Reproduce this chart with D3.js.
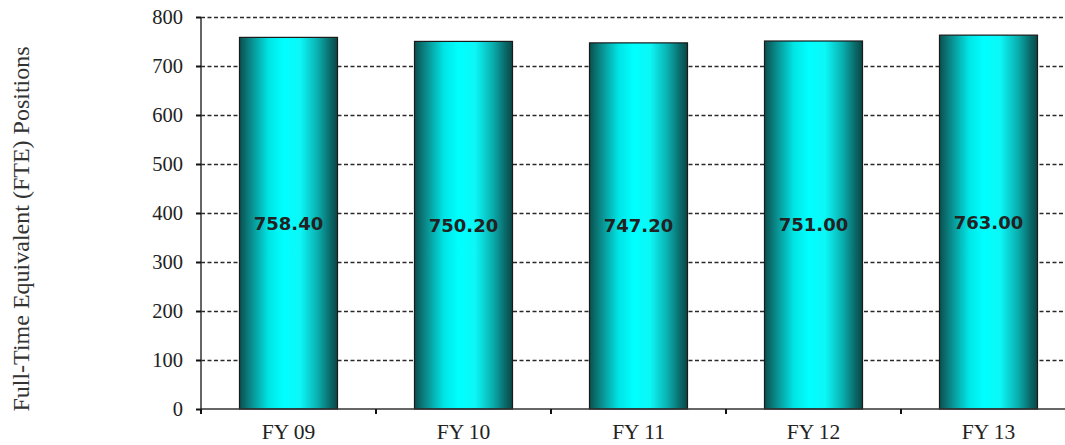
<!DOCTYPE html>
<html>
<head>
<meta charset="utf-8">
<script src="https://cdn.jsdelivr.net/npm/d3@7"></script>
<style>
  html, body { margin: 0; padding: 0; background: #fff; }
  svg { display: block; }
</style>
</head>
<body>
<svg id="chart" width="1065" height="445"></svg>
<script>
// Full-time equivalent positions by fiscal year
const categories = ["FY 09", "FY 10", "FY 11", "FY 12", "FY 13"];
const values = [758.40, 750.20, 747.20, 751.00, 763.00];
const yTicks = [0, 100, 200, 300, 400, 500, 600, 700, 800];
const yTitle = "Full-Time Equivalent (FTE) Positions";

const svg = d3.select("#chart");
const plotLeft = 201, plotTop = 17, plotBottom = 409, plotRight = 1076;
const serif = "Liberation Serif, Times New Roman, serif";

const x = d3.scaleBand().domain(categories).range([plotLeft, plotRight]).paddingInner(0.44).paddingOuter(0.22);
const y = d3.scaleLinear().domain([0, 800]).range([plotBottom, plotTop]);

// Horizontal cylinder-style shading for the bars
const defs = svg.append("defs");
const grad = defs.append("linearGradient").attr("id", "barShade")
  .attr("x1", "0%").attr("x2", "100%").attr("y1", "0%").attr("y2", "0%");
[
  [0, "#0a4f4f"], [0.12, "#0a8c8c"], [0.3, "#00e5e5"], [0.45, "#00ffff"],
  [0.62, "#0cf7f7"], [0.8, "#0aaeae"], [0.93, "#0a6767"], [1, "#0b4747"]
].forEach(([o, c]) => grad.append("stop").attr("offset", o).attr("stop-color", c));

// Dashed gridlines
svg.append("g").selectAll("line").data(yTicks.filter(d => d > 0)).join("line")
  .attr("x1", plotLeft).attr("x2", 1065)
  .attr("y1", d => y(d) + 0.5).attr("y2", d => y(d) + 0.5)
  .attr("stroke", "#2a2a2a").attr("stroke-width", 1.3).attr("stroke-dasharray", "4,2.5");

// Bars
svg.append("g").selectAll("rect").data(values).join("rect")
  .attr("x", (d, i) => x(categories[i]))
  .attr("y", d => y(d))
  .attr("width", x.bandwidth())
  .attr("height", d => y(0) - y(d))
  .attr("fill", "url(#barShade)")
  .attr("stroke", "#1a1a1a").attr("stroke-width", 1.2);

// Value labels, centred in each bar
svg.append("g").selectAll("text").data(values).join("text")
  .attr("x", (d, i) => x(categories[i]) + x.bandwidth() / 2)
  .attr("y", d => y(d / 2))
  .attr("dy", "0.36em")
  .attr("text-anchor", "middle")
  .attr("font-family", "DejaVu Sans, Verdana, sans-serif")
  .attr("font-weight", "bold").attr("font-size", 18).attr("fill", "#222")
  .text(d => d.toFixed(2));

// Y axis
const yAxis = svg.append("g").attr("transform", `translate(${plotLeft},0)`)
  .call(d3.axisLeft(y).tickValues(yTicks).tickSize(5).tickPadding(13).tickFormat(d3.format("d")));
yAxis.select(".domain").attr("stroke", "#333").attr("stroke-width", 1.5).attr("d", `M0,${plotTop}V${plotBottom}`);
yAxis.selectAll(".tick line").attr("stroke", "#111").attr("stroke-width", 2);
yAxis.selectAll("text").attr("font-family", serif)
  .attr("font-size", 20.5).attr("fill", "#222");

// X axis with ticks at band boundaries
const xAxis = svg.append("g").attr("transform", `translate(0,${plotBottom})`)
  .call(d3.axisBottom(x).tickSize(0).tickPadding(15));
xAxis.select(".domain").attr("stroke", "#333").attr("stroke-width", 1.5).attr("d", `M${plotLeft},0H1065`);
xAxis.selectAll("text").attr("font-family", serif)
  .attr("font-size", 21.5).attr("fill", "#222");
const bounds = d3.range(categories.length + 1).map(i => plotLeft + i * x.step());
xAxis.selectAll(".bound").data(bounds).join("line").attr("class", "bound")
  .attr("x1", d => d).attr("x2", d => d).attr("y1", 0).attr("y2", 5)
  .attr("stroke", "#111").attr("stroke-width", 2);

// Y axis title
svg.append("text")
  .attr("transform", "translate(29,229) rotate(-90)")
  .attr("text-anchor", "middle")
  .attr("font-family", serif)
  .attr("font-size", 24).attr("fill", "#333")
  .text(yTitle);
</script>
</body>
</html>
